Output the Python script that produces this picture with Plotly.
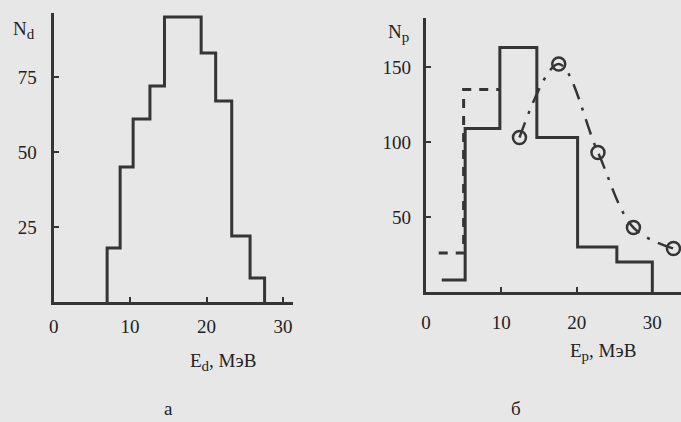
import plotly.graph_objects as go

# Panel a: deuteron spectrum histogram
ed_edges = [7.0, 8.7, 10.4, 12.6, 14.5, 19.3, 21.2, 23.3, 25.7, 27.6]
nd_counts = [18, 45, 61, 72, 95, 83, 67, 22, 8]

# Panel b: proton spectrum, solid histogram
ep_edges = [2.1, 5.2, 9.8, 14.7, 20.1, 25.3, 30.0]
np_counts = [8, 109, 163, 103, 30, 20]

# Panel b: dashed histogram (low-energy part)
ep_dash_edges = [1.7, 5.0, 9.8]
np_dash_counts = [26, 135]

# Panel b: open circles with dash-dot curve
ep_pts = [12.4, 17.6, 22.8, 27.5, 32.8]
np_pts = [103, 152, 93, 43, 29]

xticks = [0, 10, 20, 30]
yticks_a = [25, 50, 75]
yticks_b = [50, 100, 150]

LINE = "#353535"
FONT = "Liberation Serif, Times New Roman, serif"
W, H = 681, 422

fig = go.Figure()

# histogram a
xa = [ed_edges[0]] + ed_edges
ya = [0] + nd_counts + [0]
fig.add_trace(go.Scatter(x=xa, y=ya, mode="lines", line=dict(color=LINE, width=3, shape="hv"),
                         xaxis="x", yaxis="y", showlegend=False))

# histogram b solid
xb = ep_edges
yb = np_counts + [0]
fig.add_trace(go.Scatter(x=xb, y=yb, mode="lines", line=dict(color=LINE, width=3, shape="hv"),
                         xaxis="x2", yaxis="y2", showlegend=False))

# histogram b dashed
xd = ep_dash_edges
yd = np_dash_counts + [np_dash_counts[-1]]
fig.add_trace(go.Scatter(x=xd, y=yd, mode="lines",
                         line=dict(color=LINE, width=3, shape="hv", dash="9px,8px"),
                         xaxis="x2", yaxis="y2", showlegend=False))

# circles with dash-dot spline
fig.add_trace(go.Scatter(x=ep_pts, y=np_pts, mode="lines+markers",
                         line=dict(color=LINE, width=2.5, shape="spline", smoothing=1.0,
                                   dash="16px,9px,3px,9px"),
                         marker=dict(symbol="circle-open", size=13, color=LINE, line=dict(width=2.5, color=LINE)),
                         xaxis="x2", yaxis="y2", showlegend=False, cliponaxis=False))

def ax_common():
    return dict(showgrid=False, zeroline=False, showline=True, linecolor=LINE, linewidth=3,
                ticks="inside", ticklen=5, tickwidth=2, tickcolor=LINE,
                tickfont=dict(family=FONT, size=19, color="#222"))

fig.update_layout(
    width=W, height=H,
    margin=dict(l=0, r=0, t=0, b=0),
    paper_bgcolor="#e7e7e7", plot_bgcolor="rgba(0,0,0,0)",
    xaxis=dict(domain=[49 / W, 290 / W], range=[0, 31.3], tickvals=xticks,
               ticklabelstandoff=5, anchor="y", **ax_common()),
    yaxis=dict(domain=[1 - 302 / H, 1 - 13 / H], range=[0, 96.3], tickvals=yticks_a,
               ticklabelstandoff=10, anchor="x", **ax_common()),
    xaxis2=dict(domain=[424 / W, 1.0], range=[0, 33.8], tickvals=xticks,
                ticklabelstandoff=11, anchor="y2", **ax_common()),
    yaxis2=dict(domain=[1 - 292 / H, 1 - 18 / H], range=[0, 182.7], tickvals=yticks_b,
                ticklabelstandoff=8, anchor="x2", **ax_common()),
)

SUB = "<sub><span style='font-size:15px'>%s</span></sub>"

def txt(x, y, s, size=19):
    fig.add_annotation(x=x / W, y=1 - y / H, xref="paper", yref="paper", text=s, showarrow=False,
                       font=dict(family=FONT, size=size, color="#222"), xanchor="center", yanchor="middle")

txt(19, 30, "N" + SUB % "d")
txt(396, 33, "N" + SUB % "p")
txt(220, 362, "E" + SUB % "d" + ", МэВ")
txt(602, 352, "E" + SUB % "p" + ", МэВ")
txt(165, 408, "а")
txt(515, 408, "б")

fig.write_html("out.html", config={"displayModeBar": False},
               post_script="document.body.style.margin='0';document.body.style.background='#e7e7e7';")
